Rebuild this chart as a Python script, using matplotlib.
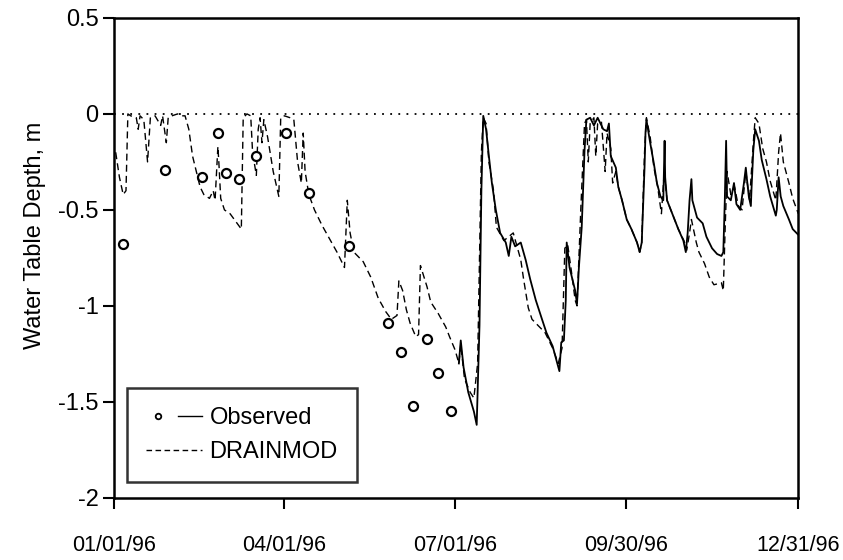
import matplotlib
matplotlib.use("Agg")
import matplotlib.pyplot as plt
from matplotlib.lines import Line2D
from matplotlib.legend_handler import HandlerTuple
import numpy as np

# day of year (0 = 01/01/96) and water table depth (m)
obs_pt_day = [5, 27.5, 47, 55.5, 60, 67, 76, 92, 104, 125.5, 146, 153, 159.5, 167, 173, 180]
obs_pt_depth = [-0.68, -0.29, -0.33, -0.10, -0.31, -0.34, -0.22, -0.10, -0.41, -0.69,
                -1.09, -1.24, -1.52, -1.17, -1.35, -1.55]

obs_day = [184, 185, 186.5, 189, 192, 193.5, 195, 196, 197, 198.5, 200, 201.6, 203.7, 206, 209,
           210.6, 212, 214, 217, 219.6, 222, 225, 228, 230.7, 234, 237.6, 238.6, 240, 241, 241.5,
           243, 246, 247, 248, 249.5, 251, 252, 254, 256, 258, 261, 263, 264, 265, 267.7, 269,
           271, 273.5, 276, 279, 280.4, 281.5, 283, 283.5, 284, 286, 288, 289.6, 291.5, 293,
           293.7, 294, 295, 297, 298.6, 301, 303.7, 305, 306, 307, 308, 308.5, 311, 314, 316,
           319, 321.7, 324, 325, 325.8, 326.5, 327, 329, 330.7, 332, 334, 336, 337, 337.6,
           338.6, 339.7, 340, 341, 342, 344, 345.5, 348, 350, 353, 353.5, 354.5, 355.6, 357,
           360, 362, 365]
obs_depth = [-1.30, -1.18, -1.32, -1.45, -1.55, -1.62, -1.10, -0.40, -0.01, -0.08, -0.22, -0.36,
             -0.50, -0.62, -0.67, -0.74, -0.64, -0.69, -0.67, -0.76, -0.86, -0.97, -1.06, -1.14,
             -1.21, -1.34, -1.19, -1.18, -0.97, -0.67, -0.80, -0.92, -0.99, -0.80, -0.59, -0.19,
             -0.03, -0.02, -0.06, -0.02, -0.08, -0.09, -0.05, -0.22, -0.28, -0.38, -0.45, -0.55,
             -0.60, -0.67, -0.72, -0.67, -0.28, -0.10, -0.03, -0.15, -0.26, -0.36, -0.43, -0.45,
             -0.14, -0.33, -0.45, -0.50, -0.54, -0.60, -0.66, -0.72, -0.62, -0.45, -0.34, -0.45,
             -0.54, -0.57, -0.64, -0.70, -0.73, -0.74, -0.72, -0.45, -0.14, -0.43, -0.45, -0.36,
             -0.47, -0.50, -0.36, -0.28, -0.34, -0.43, -0.48, -0.40, -0.19, -0.08, -0.14, -0.24,
             -0.34, -0.43, -0.53, -0.50, -0.33, -0.43, -0.48, -0.55, -0.60, -0.63]

sim_day = [1, 3, 5, 6.5, 7.5, 9, 12, 13, 14, 16, 18, 19.5, 22, 25, 26, 28, 29, 31, 34, 36, 38,
           40, 42, 44, 46, 48, 51, 53, 54, 55.5, 56, 57, 59, 62, 65, 68, 69, 71, 73, 74, 76, 77,
           78, 79, 80, 82, 85, 88, 89, 91, 94, 96, 98, 100, 101, 102, 104, 107, 111, 115, 119,
           123, 124.5, 126, 128, 133, 137, 141, 145, 148, 151, 152, 154, 156, 158, 161, 162.5,
           163.5, 167, 169, 173, 177, 179, 182, 184, 185, 187, 190, 192, 194, 196, 197, 198.5,
           200, 202.5, 204, 208, 213, 217, 218.5, 221, 223, 227, 230, 234, 237, 239, 240.5, 242,
           244, 246, 247, 249, 251, 252, 253, 254, 256, 257, 258, 260, 262, 263, 265, 266, 267.7,
           269, 271, 273.5, 276, 279, 280.4, 281.5, 283, 284, 286, 288, 290, 292, 293.5, 295,
           297, 299, 301, 304, 305.5, 307, 308, 310.6, 312, 315, 317.5, 320, 324, 325, 326, 327,
           329, 331, 333, 335, 337, 339, 341, 342, 344, 346, 348, 350, 353, 354.5, 355.5, 357,
           360, 362, 365]
sim_depth = [-0.20, -0.33, -0.42, -0.40, 0.00, -0.01, -0.02, -0.08, -0.01, -0.03, -0.25, -0.02,
             -0.01, -0.06, -0.01, -0.15, -0.02, -0.01, 0.00, -0.01, -0.01, -0.08, -0.22, -0.30,
             -0.38, -0.42, -0.44, -0.40, -0.45, -0.17, -0.25, -0.44, -0.50, -0.52, -0.56, -0.60,
             -0.02, 0.00, -0.01, -0.20, -0.32, -0.08, -0.02, -0.15, -0.03, -0.12, -0.30, -0.43,
             -0.02, -0.01, -0.02, -0.03, -0.25, -0.36, -0.10, -0.30, -0.42, -0.50, -0.58, -0.65,
             -0.72, -0.80, -0.45, -0.62, -0.72, -0.77, -0.85, -0.96, -1.03, -1.07, -1.05, -0.87,
             -0.92, -1.02, -1.09, -1.16, -1.15, -0.79, -0.90, -0.98, -1.04, -1.11, -1.16, -1.23,
             -1.30, -1.20, -1.38, -1.45, -1.48, -1.30, -0.20, -0.02, -0.05, -0.25, -0.40, -0.59,
             -0.66, -0.62, -0.76, -0.86, -1.01, -1.07, -1.11, -1.14, -1.22, -1.30, -1.22, -0.70,
             -0.68, -0.82, -0.97, -1.00, -0.50, -0.05, -0.03, -0.25, -0.05, -0.02, -0.22, -0.05,
             -0.04, -0.30, -0.10, -0.18, -0.36, -0.30, -0.38, -0.45, -0.55, -0.60, -0.67, -0.72,
             -0.67, -0.20, -0.02, -0.12, -0.28, -0.38, -0.52, -0.30, -0.45, -0.50, -0.55, -0.60,
             -0.66, -0.71, -0.62, -0.55, -0.67, -0.72, -0.78, -0.85, -0.89, -0.88, -0.92, -0.59,
             -0.30, -0.42, -0.38, -0.48, -0.50, -0.30, -0.45, -0.15, -0.02, -0.05, -0.18, -0.25,
             -0.35, -0.45, -0.20, -0.10, -0.25, -0.36, -0.44, -0.52]

tick_days = [0, 91, 182, 273, 365]
tick_labels = ["01/01/96", "04/01/96", "07/01/96", "09/30/96", "12/31/96"]
y_ticks = [0.5, 0, -0.5, -1, -1.5, -2]
y_labels = ["0.5", "0", "-0.5", "-1", "-1.5", "-2"]

plt.rcParams['font.family'] = ['Liberation Sans', 'DejaVu Sans']

fig = plt.figure(figsize=(8.43, 5.6), dpi=100)
ax = fig.add_axes([0.135, 0.111, 0.812, 0.857])

ax.plot([0, 365], [0, 0], color='black', linestyle=(0, (1, 3.5)), linewidth=1.3)
ax.plot(sim_day, sim_depth, color='black', linestyle=(0, (5, 3)), linewidth=1.0)
ax.plot(obs_day, obs_depth, color='black', linestyle='-', linewidth=1.3)
ax.plot(obs_pt_day, obs_pt_depth, linestyle='none', marker='o', ms=6.5,
        markerfacecolor='white', markeredgecolor='black', mew=1.6)

ax.set_xlim(0, 365)
ax.set_ylim(-2, 0.5)
ax.set_xticks(tick_days)
ax.set_xticklabels(tick_labels, fontsize=15.5)
ax.set_yticks(y_ticks)
ax.set_yticklabels(y_labels, fontsize=17)
ax.tick_params(direction='out', length=8, width=1.5)
ax.tick_params(axis='x', pad=19)
ax.tick_params(axis='y', pad=3)
ax.set_ylabel('Water Table Depth, m', fontsize=17)
ax.yaxis.set_label_coords(-0.099, 0.546)
for s in ax.spines.values():
    s.set_linewidth(1.8)

h_pt = Line2D([], [], linestyle='none', marker='o', ms=4, markerfacecolor='white',
              markeredgecolor='black', mew=1.3)
h_ln = Line2D([], [], color='black', linewidth=1.0)
h_sim = Line2D([], [], color='black', linestyle=(0, (4, 2.5)), linewidth=1.0)
leg = ax.legend([(h_pt, h_ln), h_sim], ['Observed', 'DRAINMOD'],
                handler_map={tuple: HandlerTuple(ndivide=None, pad=0.3)},
                loc='lower left', bbox_to_anchor=(0.019, 0.033), fontsize=17,
                frameon=True, fancybox=False, edgecolor='black', handlelength=2.4,
                handletextpad=0.3, borderpad=0.8, labelspacing=0.5, borderaxespad=0)
leg.get_frame().set_linewidth(1.8)

fig.savefig("out.png", dpi=100)
